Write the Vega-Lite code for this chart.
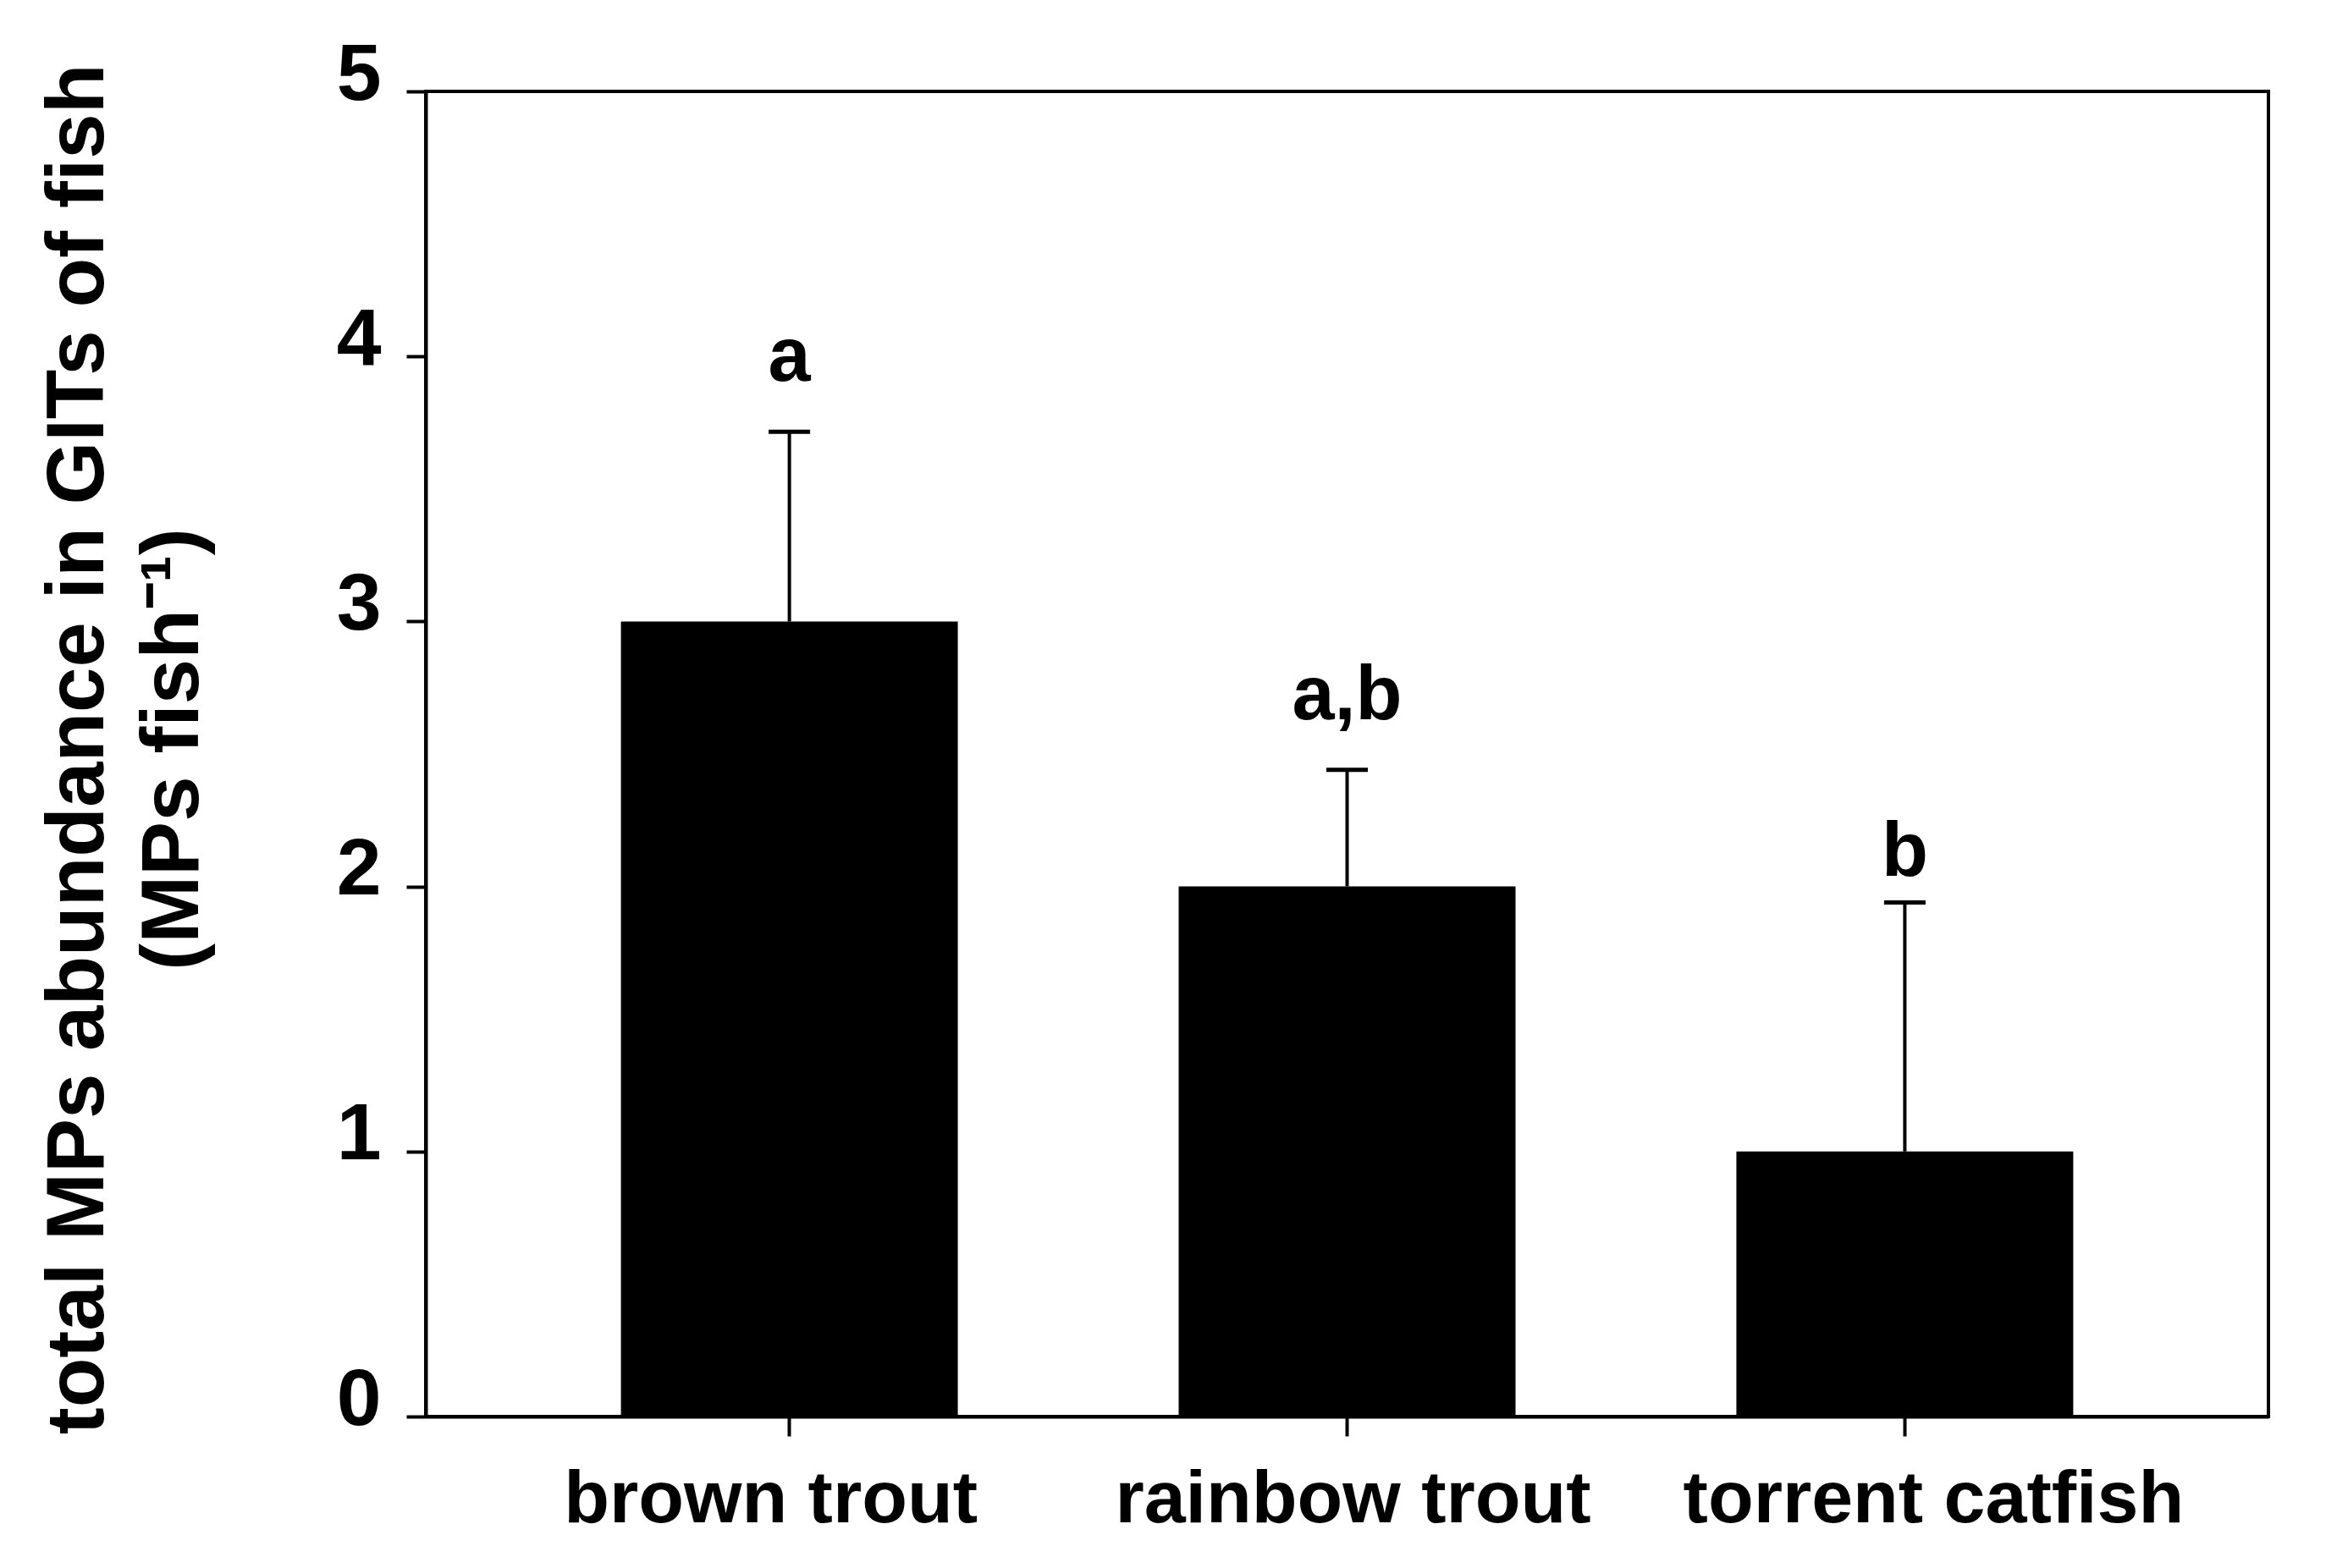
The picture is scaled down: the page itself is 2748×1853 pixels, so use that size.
{
  "$schema": "https://vega.github.io/schema/vega-lite/v6.json",
  "autosize": "none",
  "width": 2177,
  "height": 1566,
  "padding": {"left": 503, "top": 108, "right": 68, "bottom": 179},
  "background": "white",
  "config": {
    "font": "Liberation Sans",
    "view": {"stroke": "black", "strokeWidth": 4}
  },
  "data": {
    "values": [
      {"fish": "brown trout", "mean": 3, "upper": 3.716, "group": "a", "label_y": 3.908},
      {"fish": "rainbow trout", "mean": 2, "upper": 2.44, "group": "a,b", "label_y": 2.631},
      {"fish": "torrent catfish", "mean": 1, "upper": 1.94, "group": "b", "label_y": 2.04}
    ]
  },
  "encoding": {
    "x": {
      "field": "fish",
      "type": "nominal",
      "sort": null,
      "scale": {"paddingInner": 0.396, "paddingOuter": 0.35},
      "axis": {
        "title": null,
        "labelAngle": 0,
        "labelLimit": 0,
        "labelFont": "Liberation Sans",
        "labelFontSize": 88,
        "labelFontWeight": "bold",
        "labelColor": "black",
        "labelBaseline": "alphabetic",
        "labelPadding": 101,
        "labelOffset": {
          "condition": [
            {"test": "datum.value === 'brown trout'", "value": -22},
            {"test": "datum.value === 'rainbow trout'", "value": 7}
          ],
          "value": 34
        },
        "tickSize": 23,
        "tickWidth": 4,
        "tickColor": "black",
        "domainColor": "black",
        "domainWidth": 4,
        "grid": false
      }
    }
  },
  "layer": [
    {
      "mark": {"type": "bar", "color": "black"},
      "encoding": {
        "y": {
          "field": "mean",
          "type": "quantitative",
          "scale": {"domain": [0, 5], "nice": false},
          "axis": {
            "values": [0, 1, 2, 3, 4, 5],
            "format": "d",
            "grid": false,
            "labelFont": "Liberation Sans",
            "labelFontSize": 95,
            "labelFontWeight": "bold",
            "labelColor": "black",
            "labelBaseline": "middle",
            "labelOffset": -20,
            "labelPadding": 30,
            "tickSize": 23,
            "tickWidth": 4,
            "tickColor": "black",
            "domainColor": "black",
            "domainWidth": 4,
            "title": ["total MPs abundance in GITs of fish", "(MPs fish⁻¹)"],
            "titleFont": "Liberation Sans",
            "titleFontSize": 96,
            "titleFontWeight": "bold",
            "titleColor": "black",
            "titleAngle": -90,
            "titleBaseline": "top",
            "titleAlign": "center",
            "titleX": -458,
            "titleY": 777,
            "titleLineHeight": 112
          }
        }
      }
    },
    {
      "mark": {"type": "rule", "color": "black", "strokeWidth": 4},
      "encoding": {
        "y": {"field": "mean", "type": "quantitative"},
        "y2": {"field": "upper"}
      }
    },
    {
      "mark": {"type": "tick", "color": "black", "size": 49, "thickness": 5, "opacity": 1},
      "encoding": {
        "y": {"field": "upper", "type": "quantitative"}
      }
    },
    {
      "mark": {"type": "text", "font": "Liberation Sans", "fontSize": 90, "fontWeight": "bold", "color": "black", "baseline": "alphabetic", "align": "center"},
      "encoding": {
        "y": {"field": "label_y", "type": "quantitative"},
        "text": {"field": "group"}
      }
    }
  ]
}
